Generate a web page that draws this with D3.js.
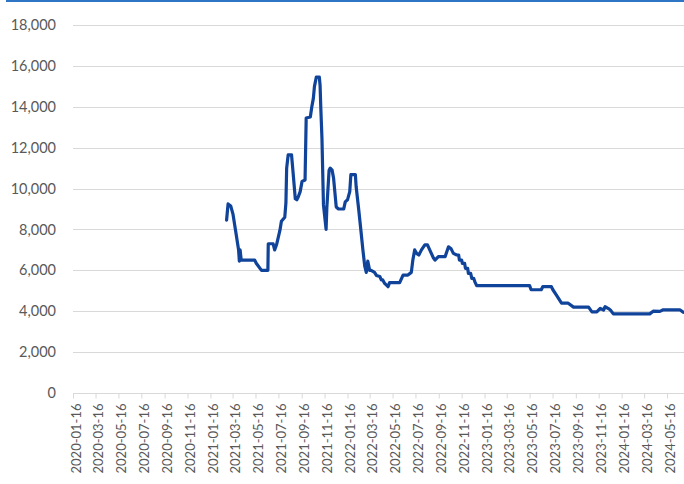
<!DOCTYPE html>
<html>
<head>
<meta charset="utf-8">
<script src="https://cdn.jsdelivr.net/npm/d3@7"></script>
<style>
  html, body { margin: 0; padding: 0; background: #ffffff; }
  svg { display: block; }
</style>
</head>
<body>
<svg id="chart" width="684" height="484"></svg>
<script>
// Observation dates and values of the series
const dates = [
  "2021-02-28","2021-03-04","2021-03-11","2021-03-17","2021-03-26","2021-04-01","2021-04-03","2021-04-05","2021-04-08",
  "2021-05-14","2021-05-18","2021-06-01","2021-06-18","2021-06-19","2021-07-02","2021-07-06","2021-07-11","2021-07-20",
  "2021-07-24","2021-08-02","2021-08-05","2021-08-07","2021-08-11","2021-08-20","2021-08-24","2021-08-30","2021-09-03",
  "2021-09-07","2021-09-12","2021-09-17","2021-09-25","2021-09-28","2021-10-09","2021-10-13","2021-10-17","2021-10-20",
  "2021-10-25","2021-11-02","2021-11-04","2021-11-06","2021-11-09","2021-11-13","2021-11-20","2021-11-22","2021-11-28",
  "2021-12-01","2021-12-06","2021-12-10","2021-12-17","2021-12-23","2022-01-06","2022-01-10","2022-01-16","2022-01-22",
  "2022-01-25","2022-02-06","2022-02-08","2022-02-15","2022-02-21","2022-02-26","2022-03-03","2022-03-07","2022-03-11",
  "2022-03-16","2022-03-20","2022-03-29","2022-04-03","2022-04-12","2022-04-16","2022-04-20","2022-04-25","2022-05-04",
  "2022-05-08","2022-06-04","2022-06-13","2022-06-26","2022-07-05","2022-07-09","2022-07-14","2022-07-19","2022-07-25",
  "2022-08-01","2022-08-10","2022-08-17","2022-08-23","2022-09-02","2022-09-06","2022-09-15","2022-10-03","2022-10-12",
  "2022-10-19","2022-10-25","2022-11-03","2022-11-08","2022-11-10","2022-11-16","2022-11-18","2022-11-24","2022-11-26",
  "2022-12-02","2022-12-04","2022-12-10","2022-12-13","2022-12-18","2022-12-21","2022-12-26","2022-12-31",
  "2023-05-16","2023-05-20","2023-06-16","2023-06-20","2023-07-13","2023-07-17","2023-07-26","2023-08-09",
  "2023-08-26","2023-09-10","2023-10-20","2023-10-29","2023-11-11","2023-11-20","2023-11-29","2023-12-03","2023-12-12",
  "2023-12-17","2023-12-25","2024-03-31","2024-04-09","2024-04-27","2024-05-06","2024-06-19","2024-06-28"
];
const values = [
  8460, 9250, 9150, 8750, 7700, 7000, 6450, 7000, 6500,
  6500, 6350, 6000, 6000, 7300, 7300, 7000, 7250, 7950,
  8400, 8600, 9300, 11000, 11650, 11650, 10800, 9500, 9450,
  9600, 9850, 10350, 10420, 13450, 13500, 14000, 14400, 15000,
  15450, 15450, 15050, 13900, 12450, 9200, 8000, 9050, 10900,
  11000, 10900, 10500, 9100, 9000, 9000, 9350, 9450, 9850,
  10680, 10680, 10100, 8950, 7900, 7000, 6200, 5900, 6450,
  6000, 6000, 5900, 5750, 5700, 5530, 5530, 5360, 5200,
  5400, 5400, 5770, 5770, 5900, 6500, 7000, 6830, 6750,
  7000, 7250, 7250, 7000, 6600, 6500, 6670, 6670, 7150,
  7050, 6830, 6750, 6750, 6500, 6500, 6340, 6340, 6100,
  6100, 5850, 5850, 5610, 5610, 5450, 5250, 5250,
  5250, 5050, 5050, 5200, 5200, 5050, 4800, 4400,
  4400, 4200, 4200, 3970, 3970, 4140, 4060, 4220, 4130,
  4060, 3870, 3870, 4000, 3990, 4070, 4070, 3950
];

// Axis ticks
const xTickLabels = [
  "2020-01-16","2020-03-16","2020-05-16","2020-07-16","2020-09-16","2020-11-16",
  "2021-01-16","2021-03-16","2021-05-16","2021-07-16","2021-09-16","2021-11-16",
  "2022-01-16","2022-03-16","2022-05-16","2022-07-16","2022-09-16","2022-11-16",
  "2023-01-16","2023-03-16","2023-05-16","2023-07-16","2023-09-16","2023-11-16",
  "2024-01-16","2024-03-16","2024-05-16"
];
const yTicks = [0, 2000, 4000, 6000, 8000, 10000, 12000, 14000, 16000, 18000];

const parse = d3.timeParse("%Y-%m-%d");
const series = dates.map((d, i) => ({ date: parse(d), value: values[i] }));

const svg = d3.select("#chart");
const W = 684;
const plotLeft = 73, plotRight = W, plotTop = 25, plotBottom = 393;

const x = d3.scaleTime()
  .domain([parse("2020-01-16"), parse("2024-07-16")])
  .range([plotLeft, 689.95]);
const y = d3.scaleLinear().domain([0, 18000]).range([plotBottom, plotTop]);

const textColor = "#595959";
const gridColor = "#d9d9d9";
const font = "Lato, 'Open Sans', sans-serif";

// Top frame stroke
svg.append("rect")
  .attr("x", 6).attr("y", 0).attr("width", W - 6).attr("height", 2)
  .attr("fill", "#2e75c6");

// Horizontal gridlines (the zero line doubles as the x axis)
svg.append("g")
  .selectAll("line")
  .data(yTicks)
  .join("line")
  .attr("x1", plotLeft).attr("x2", plotRight)
  .attr("y1", d => Math.round(y(d)) + 0.5).attr("y2", d => Math.round(y(d)) + 0.5)
  .attr("stroke", gridColor).attr("stroke-width", 1);

// Y axis labels
const yAxis = d3.axisLeft(y)
  .tickValues(yTicks)
  .tickFormat(d3.format(","))
  .tickSize(0)
  .tickPadding(0);
const yG = svg.append("g").attr("transform", "translate(56,0)").call(yAxis);
yG.select(".domain").remove();
yG.selectAll("text")
  .attr("fill", textColor)
  .style("font-family", font)
  .style("font-size", "14.5px");

// X axis ticks and rotated date labels
const xTickDates = xTickLabels.map(parse);
const xAxis = d3.axisBottom(x)
  .tickValues(xTickDates)
  .tickFormat(d3.timeFormat("%Y-%m-%d"))
  .tickSize(5)
  .tickSizeOuter(0);
const xG = svg.append("g").attr("transform", `translate(0,${plotBottom + 0.5})`).call(xAxis);
xG.select(".domain").remove();
xG.selectAll(".tick line").attr("stroke", gridColor);
xG.selectAll(".tick text")
  .attr("fill", textColor)
  .style("font-family", font)
  .style("font-size", "13px")
  .attr("text-anchor", "end")
  .attr("transform", "rotate(-90)")
  .attr("x", -10)
  .attr("y", 2.5)
  .attr("dy", "0.35em");

// Series line
const line = d3.line()
  .x(d => x(d.date))
  .y(d => y(d.value));

svg.append("path")
  .datum(series)
  .attr("d", line)
  .attr("fill", "none")
  .attr("stroke", "#10439a")
  .attr("stroke-width", 3.2)
  .attr("stroke-linejoin", "round")
  .attr("stroke-linecap", "round");
</script>
</body>
</html>
